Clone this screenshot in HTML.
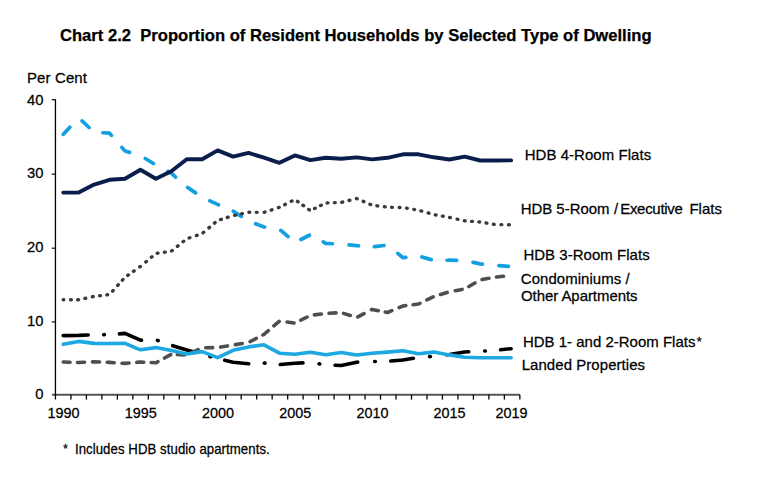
<!DOCTYPE html>
<html><head><meta charset="utf-8">
<style>
html,body{margin:0;padding:0;background:#fff;}
body{width:759px;height:486px;overflow:hidden;position:relative;}
svg{position:absolute;left:0;top:0;font-family:"Liberation Sans", sans-serif;}
text{fill:#000;stroke:#000;stroke-width:0.25px;}
</style></head><body>
<svg width="759" height="486" viewBox="0 0 759 486">
<line x1="52" y1="394.8" x2="519.9" y2="394.8" stroke="#555" stroke-width="1.9"/>
<line x1="55.45" y1="99.2" x2="55.45" y2="399.6" stroke="#000" stroke-width="1.3"/>
<line x1="51.8" y1="99.70" x2="55.5" y2="99.70" stroke="#111" stroke-width="1.25"/>
<line x1="51.8" y1="174.20" x2="55.5" y2="174.20" stroke="#111" stroke-width="1.25"/>
<line x1="51.8" y1="248.20" x2="55.5" y2="248.20" stroke="#111" stroke-width="1.25"/>
<line x1="51.8" y1="321.90" x2="55.5" y2="321.90" stroke="#111" stroke-width="1.25"/>
<line x1="70.93" y1="394.8" x2="70.93" y2="399.6" stroke="#000" stroke-width="1.3"/>
<line x1="86.41" y1="394.8" x2="86.41" y2="399.6" stroke="#000" stroke-width="1.3"/>
<line x1="101.89" y1="394.8" x2="101.89" y2="399.6" stroke="#000" stroke-width="1.3"/>
<line x1="117.37" y1="394.8" x2="117.37" y2="399.6" stroke="#000" stroke-width="1.3"/>
<line x1="132.85" y1="394.8" x2="132.85" y2="399.6" stroke="#000" stroke-width="1.3"/>
<line x1="148.33" y1="394.8" x2="148.33" y2="399.6" stroke="#000" stroke-width="1.3"/>
<line x1="163.81" y1="394.8" x2="163.81" y2="399.6" stroke="#000" stroke-width="1.3"/>
<line x1="179.29" y1="394.8" x2="179.29" y2="399.6" stroke="#000" stroke-width="1.3"/>
<line x1="194.77" y1="394.8" x2="194.77" y2="399.6" stroke="#000" stroke-width="1.3"/>
<line x1="210.25" y1="394.8" x2="210.25" y2="399.6" stroke="#000" stroke-width="1.3"/>
<line x1="225.73" y1="394.8" x2="225.73" y2="399.6" stroke="#000" stroke-width="1.3"/>
<line x1="241.21" y1="394.8" x2="241.21" y2="399.6" stroke="#000" stroke-width="1.3"/>
<line x1="256.69" y1="394.8" x2="256.69" y2="399.6" stroke="#000" stroke-width="1.3"/>
<line x1="272.17" y1="394.8" x2="272.17" y2="399.6" stroke="#000" stroke-width="1.3"/>
<line x1="287.65" y1="394.8" x2="287.65" y2="399.6" stroke="#000" stroke-width="1.3"/>
<line x1="303.13" y1="394.8" x2="303.13" y2="399.6" stroke="#000" stroke-width="1.3"/>
<line x1="318.61" y1="394.8" x2="318.61" y2="399.6" stroke="#000" stroke-width="1.3"/>
<line x1="334.09" y1="394.8" x2="334.09" y2="399.6" stroke="#000" stroke-width="1.3"/>
<line x1="349.57" y1="394.8" x2="349.57" y2="399.6" stroke="#000" stroke-width="1.3"/>
<line x1="365.05" y1="394.8" x2="365.05" y2="399.6" stroke="#000" stroke-width="1.3"/>
<line x1="380.53" y1="394.8" x2="380.53" y2="399.6" stroke="#000" stroke-width="1.3"/>
<line x1="396.01" y1="394.8" x2="396.01" y2="399.6" stroke="#000" stroke-width="1.3"/>
<line x1="411.49" y1="394.8" x2="411.49" y2="399.6" stroke="#000" stroke-width="1.3"/>
<line x1="426.97" y1="394.8" x2="426.97" y2="399.6" stroke="#000" stroke-width="1.3"/>
<line x1="442.45" y1="394.8" x2="442.45" y2="399.6" stroke="#000" stroke-width="1.3"/>
<line x1="457.93" y1="394.8" x2="457.93" y2="399.6" stroke="#000" stroke-width="1.3"/>
<line x1="473.41" y1="394.8" x2="473.41" y2="399.6" stroke="#000" stroke-width="1.3"/>
<line x1="488.89" y1="394.8" x2="488.89" y2="399.6" stroke="#000" stroke-width="1.3"/>
<line x1="504.37" y1="394.8" x2="504.37" y2="399.6" stroke="#000" stroke-width="1.3"/>
<line x1="519.85" y1="394.8" x2="519.85" y2="399.6" stroke="#000" stroke-width="1.3"/>
<polyline points="63.20,335.60 78.65,335.40 94.09,334.80 109.53,334.60 124.98,333.40 140.43,340.20 155.87,339.80 171.31,345.30 186.76,349.90 202.20,354.30 217.65,358.60 233.10,362.30 248.54,363.80 263.99,363.00 279.43,364.60 294.88,363.20 310.32,362.60 325.76,364.80 341.21,365.50 356.65,362.20 372.10,361.50 387.55,361.30 402.99,360.00 418.44,357.50 433.88,356.30 449.32,354.50 464.77,352.00 480.21,351.30 495.66,350.20 511.11,348.70" fill="none" stroke="#000" stroke-width="3.6" stroke-linejoin="round" stroke-linecap="round" stroke-dasharray="25.01 15.45 0.70 15.07 23.55 16.07 0.70 15.46 23.34 15.42 0.70 14.58 24.36 15.57 0.70 15.32 22.78 16.15 0.70 15.42 22.96 16.96 0.70 15.46 22.81 16.33 0.70 16.34 22.34 15.97 0.70 15.29 23.34 2000.00" stroke-dashoffset="-0.00"/>
<polyline points="63.20,134.40 78.65,117.80 94.09,132.20 109.53,133.20 124.98,151.00 140.43,155.50 155.87,165.00 171.31,173.20 186.76,186.90 202.20,197.40 217.65,204.40 233.10,211.10 248.54,221.10 263.99,226.90 279.43,229.20 294.88,242.50 310.32,234.80 325.76,243.30 341.21,244.30 356.65,245.60 372.10,247.00 387.55,245.00 402.99,257.70 418.44,256.00 433.88,260.40 449.32,260.20 464.77,260.60 480.21,263.90 495.66,265.30 511.11,266.60" fill="none" stroke="#149fe0" stroke-width="3.7" stroke-linejoin="round" stroke-linecap="round" stroke-dasharray="9.60 17.56 9.60 15.61 9.60 15.95 9.60 16.92 9.60 16.49 9.60 15.97 9.60 16.31 9.60 16.09 9.60 16.14 9.60 16.79 9.60 15.64 9.60 15.72 9.60 16.60 9.60 15.88 9.60 16.91 9.60 16.33 9.60 15.99 9.60 16.61 9.60 16.48 9.60 2000.00" stroke-dashoffset="-0.15"/>
<polyline points="63.20,192.60 78.65,192.60 94.09,184.60 109.53,179.80 124.98,178.80 140.43,169.80 155.87,178.80 171.31,171.30 186.76,159.20 202.20,159.20 217.65,150.40 233.10,156.60 248.54,152.90 263.99,157.70 279.43,162.80 294.88,155.40 310.32,160.10 325.76,157.70 341.21,158.70 356.65,157.40 372.10,159.40 387.55,157.80 402.99,154.30 418.44,154.30 433.88,157.30 449.32,159.50 464.77,156.60 480.21,160.50 495.66,160.50 511.11,160.40" fill="none" stroke="#0a1e4c" stroke-width="3.9" stroke-linejoin="round" stroke-linecap="round"/>
<polyline points="63.20,299.80 78.65,299.80 94.09,296.40 109.53,294.50 124.98,277.30 140.43,266.50 155.87,253.50 171.31,251.20 186.76,238.80 202.20,233.60 217.65,220.40 233.10,215.70 248.54,212.30 263.99,212.40 279.43,207.30 294.88,199.50 310.32,210.60 325.76,203.00 341.21,202.40 356.65,198.50 372.10,205.20 387.55,207.20 402.99,207.60 418.44,210.20 433.88,214.60 449.32,217.40 464.77,220.80 480.21,222.00 495.66,224.60 511.11,224.70" fill="none" stroke="#3a3a3a" stroke-width="3.4" stroke-linejoin="round" stroke-linecap="round" stroke-dasharray="0.80 6.70 0.80 6.40 0.80 6.56 0.80 6.88 0.80 6.58 0.80 6.35 0.80 6.59 0.80 6.83 0.80 6.23 0.80 6.36 0.80 6.22 0.80 6.89 0.80 7.01 0.80 6.52 0.80 6.40 0.80 6.48 0.80 6.54 0.80 6.64 0.80 6.51 0.80 6.40 0.80 6.85 0.80 6.53 0.80 6.83 0.80 6.57 0.80 6.35 0.80 6.31 0.80 6.89 0.80 6.16 0.80 6.76 0.80 6.60 0.80 7.08 0.80 6.57 0.80 6.84 0.80 6.10 0.80 6.59 0.80 6.47 0.80 5.85 0.80 6.34 0.80 5.93 0.80 5.89 0.80 6.36 0.80 6.51 0.80 6.69 0.80 6.57 0.80 6.79 0.80 6.56 0.80 6.61 0.80 6.41 0.80 6.76 0.80 6.42 0.80 6.80 0.80 6.56 0.80 6.60 0.80 6.47 0.80 6.74 0.80 6.54 0.80 6.47 0.80 6.52 0.80 6.88 0.80 6.67 0.80 6.42 0.80 6.52 0.80 6.49 0.80 6.60 0.80 6.83 0.80 6.70 0.80 2000.00" stroke-dashoffset="0.20"/>
<polyline points="63.20,362.00 78.65,362.50 94.09,361.80 109.53,362.40 124.98,363.40 140.43,362.00 155.87,362.80 171.31,354.30 186.76,355.00 202.20,347.80 217.65,347.60 233.10,345.00 248.54,342.50 263.99,334.40 279.43,321.10 294.88,323.10 310.32,315.40 325.76,313.50 341.21,312.60 356.65,317.50 372.10,309.40 387.55,312.50 402.99,306.00 418.44,304.00 433.88,296.50 449.32,291.80 464.77,288.90 480.21,279.90 495.66,277.10 511.11,275.50" fill="none" stroke="#4f4f4f" stroke-width="3.6" stroke-linejoin="round" stroke-linecap="round" stroke-dasharray="7.00 7.46 7.00 8.06 7.00 7.67 7.00 7.83 7.00 7.85 7.00 7.45 7.00 7.57 7.00 6.75 7.00 7.98 7.00 7.98 7.00 8.02 7.00 7.93 7.00 8.08 7.00 7.41 7.00 7.31 7.00 8.04 7.00 7.52 7.00 7.70 7.00 7.77 7.00 7.64 7.00 8.06 7.00 8.44 7.00 7.06 7.00 7.96 7.00 7.39 7.00 7.71 7.00 7.68 7.00 8.26 7.00 7.48 7.00 7.99 7.00 7.69 7.00 2000.00" stroke-dashoffset="0.15"/>
<polyline points="63.20,344.20 78.65,341.40 94.09,343.40 109.53,343.50 124.98,343.40 140.43,349.80 155.87,347.60 171.31,350.60 186.76,354.00 202.20,351.60 217.65,357.60 233.10,350.30 248.54,346.90 263.99,344.80 279.43,353.20 294.88,354.30 310.32,352.20 325.76,354.80 341.21,352.50 356.65,355.00 372.10,353.30 387.55,352.10 402.99,350.80 418.44,353.80 433.88,352.10 449.32,354.90 464.77,357.30 480.21,357.80 495.66,357.80 511.11,357.80" fill="none" stroke="#1ea8e2" stroke-width="3.6" stroke-linejoin="round" stroke-linecap="round"/>
<text transform="translate(60,40.5) scale(1,1.0)" font-size="16.6" text-anchor="start" font-weight="bold">Chart 2.2&#160; Proportion of Resident Households by Selected Type of Dwelling</text>
<text transform="translate(27.00,82.8) scale(1,1.04)" font-size="14.95" text-anchor="start" font-weight="normal" textLength="59.99" lengthAdjust="spacing">Per Cent</text>
<text transform="translate(43.4,104.5) scale(1,1.04)" font-size="14.75" text-anchor="end" font-weight="normal">40</text>
<text transform="translate(43.4,178.4) scale(1,1.04)" font-size="14.75" text-anchor="end" font-weight="normal">30</text>
<text transform="translate(43.4,251.5) scale(1,1.04)" font-size="14.75" text-anchor="end" font-weight="normal">20</text>
<text transform="translate(43.4,325.5) scale(1,1.04)" font-size="14.75" text-anchor="end" font-weight="normal">10</text>
<text transform="translate(43.4,399.4) scale(1,1.04)" font-size="14.75" text-anchor="end" font-weight="normal">0</text>
<text transform="translate(63.50,417.6) scale(1,1.04)" font-size="14.4" text-anchor="middle" font-weight="normal">1990</text>
<text transform="translate(140.73,417.6) scale(1,1.04)" font-size="14.4" text-anchor="middle" font-weight="normal">1995</text>
<text transform="translate(217.95,417.6) scale(1,1.04)" font-size="14.4" text-anchor="middle" font-weight="normal">2000</text>
<text transform="translate(295.18,417.6) scale(1,1.04)" font-size="14.4" text-anchor="middle" font-weight="normal">2005</text>
<text transform="translate(372.40,417.6) scale(1,1.04)" font-size="14.4" text-anchor="middle" font-weight="normal">2010</text>
<text transform="translate(449.62,417.6) scale(1,1.04)" font-size="14.4" text-anchor="middle" font-weight="normal">2015</text>
<text transform="translate(511.41,417.6) scale(1,1.04)" font-size="14.4" text-anchor="middle" font-weight="normal">2019</text>
<text transform="translate(524.70,159.6) scale(1,1.04)" font-size="14.95" text-anchor="start" font-weight="normal" textLength="126.43" lengthAdjust="spacing">HDB 4-Room Flats</text>
<text transform="translate(520.70,213.8) scale(1,1.04)" font-size="14.95" text-anchor="start" font-weight="normal" textLength="88.78" lengthAdjust="spacing">HDB 5-Room</text>
<text transform="translate(614.00,213.8) scale(1,1.04)" font-size="14.95" text-anchor="start" font-weight="normal" textLength="5.54" lengthAdjust="spacing">/</text>
<text transform="translate(620.20,213.8) scale(1,1.04)" font-size="14.95" text-anchor="start" font-weight="normal" textLength="62.68" lengthAdjust="spacing">Executive</text>
<text transform="translate(689.40,213.8) scale(1,1.04)" font-size="14.95" text-anchor="start" font-weight="normal" textLength="32.55" lengthAdjust="spacing">Flats</text>
<text transform="translate(523.40,259.7) scale(1,1.04)" font-size="14.95" text-anchor="start" font-weight="normal" textLength="126.23" lengthAdjust="spacing">HDB 3-Room Flats</text>
<text transform="translate(520.85,284.4) scale(1,1.04)" font-size="14.95" text-anchor="start" font-weight="normal" textLength="108.75" lengthAdjust="spacing">Condominiums /</text>
<text transform="translate(520.93,301.3) scale(1,1.04)" font-size="14.95" text-anchor="start" font-weight="normal" textLength="116.63" lengthAdjust="spacing">Other Apartments</text>
<text transform="translate(523.00,346.7) scale(1,1.04)" font-size="14.95" text-anchor="start" font-weight="normal" textLength="172.41" lengthAdjust="spacing">HDB 1- and 2-Room Flats</text>
<text transform="translate(696.65,345.6) scale(1,1.04)" font-size="12.6" text-anchor="start" font-weight="normal" textLength="5.59" lengthAdjust="spacing">*</text>
<text transform="translate(521.70,370.2) scale(1,1.04)" font-size="14.95" text-anchor="start" font-weight="normal" textLength="123.38" lengthAdjust="spacing">Landed Properties</text>
<text transform="translate(63.17,453.0) scale(1,1.04)" font-size="11.6" text-anchor="start" font-weight="normal" textLength="4.65" lengthAdjust="spacing">*</text>
<text transform="translate(74.91,453.8) scale(1,1.04)" font-size="13.2" text-anchor="start" font-weight="normal" textLength="194.82" lengthAdjust="spacing">Includes HDB studio apartments.</text>
</svg>
</body></html>
